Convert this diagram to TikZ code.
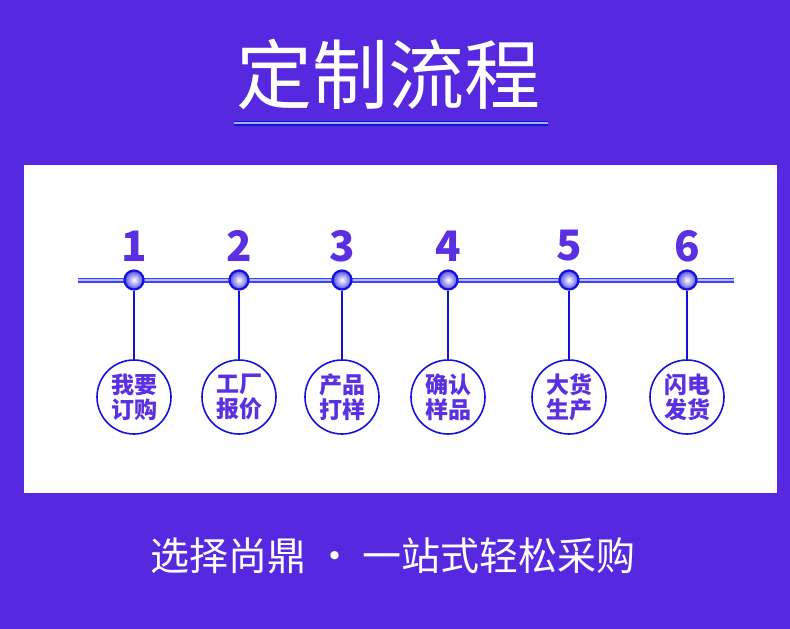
\documentclass[tikz,border=0pt]{standalone}
\usepackage{fontspec}
\setmainfont{Noto Sans CJK SC}
\usetikzlibrary{positioning}
\definecolor{bgpurple}{RGB}{86,40,224}
\definecolor{numpurple}{RGB}{90,48,226}
\definecolor{ringblue}{RGB}{20,16,222}
\definecolor{lineblue}{RGB}{120,150,250}
\begin{document}
\begin{tikzpicture}[x=1pt,y=-1pt,
  dot/.style={circle,draw=ringblue,line width=2.2pt,minimum size=19pt,inner sep=0pt,
    inner color=white,outer color=ringblue!75},
  stepring/.style={circle,draw=ringblue,line width=1.6pt,minimum size=74pt,inner sep=0pt,
    fill=white,align=center,font=\fontsize{23}{25}\selectfont\bfseries,text=numpurple},
  stepnum/.style={font=\fontsize{42}{42}\selectfont\bfseries,text=numpurple}]
\fill[bgpurple] (0,0) rectangle (790,629);
\fill[white] (24,165) rectangle (777,493);
% title
\node[text=white,font=\fontsize{76}{78}\selectfont] (title) at (388,74) {定制流程};
\coordinate (ulA) at (234,123);
\coordinate (ulB) at (548,123);
\draw[ringblue,line width=5pt] (ulA) -- (ulB);
\draw[lineblue!70!white,line width=2.6pt] (ulA) -- (ulB);
% timeline
\coordinate (tlA) at (78,280);
\coordinate (tlB) at (734,280);
\draw[blue!75,line width=5pt] (tlA) -- (tlB);
\draw[lineblue!60!white,line width=2pt] (tlA) -- (tlB);
\foreach \i/\xc/\txt in {1/134/我要\\订购, 2/239/工厂\\报价, 3/342/产品\\打样,
    4/448/确认\\样品, 5/569/大货\\生产, 6/687/闪电\\发货}{
  \node[stepnum] (num\i) at (\xc,246) {\i};
  \node[stepring] (ring\i) at (\xc,397) {\txt};
  \node[dot] (dot\i) at (\xc,280) {};
  \draw[ringblue,line width=1.4pt] (dot\i) -- (ring\i);
}
% slogan
\node[text=white,font=\fontsize{39}{42}\selectfont] (slogan) at (393,556) {选择尚鼎 • 一站式轻松采购};
\end{tikzpicture}
\end{document}
